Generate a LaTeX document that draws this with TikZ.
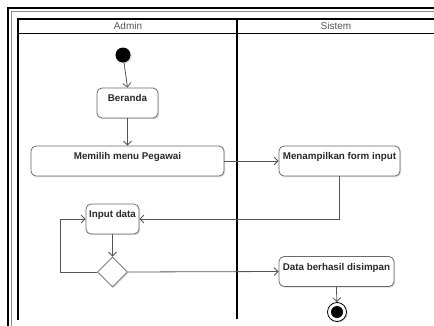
\documentclass[tikz,border=0pt]{standalone}
\usepackage{fontspec}
\setmainfont{Liberation Sans}
\usetikzlibrary{arrows.meta,shapes.geometric,shadows}
\definecolor{edgec}{HTML}{555555}
\definecolor{boxc}{HTML}{6A6A6A}
\definecolor{txtc}{HTML}{2A2A2A}
\definecolor{headc}{HTML}{555555}
\tikzset{
  x=1pt, y=-1pt,
  shd/.style={drop shadow={shadow xshift=1.2pt, shadow yshift=-1.2pt, fill=black!30, opacity=0.45}},
  act/.style={draw=boxc, line width=0.8pt, rounded corners=5pt, fill=white, shd,
    font=\fontsize{9.8}{11}\selectfont\bfseries, text=txtc,
    inner xsep=2pt, inner ysep=0pt, text height=13.5pt, text depth=16.5pt, minimum height=30pt},
  flow/.style={draw=edgec, line width=0.8pt, -{Straight Barb[length=4pt,width=8pt]}},
  head/.style={font=\fontsize{10}{12}\selectfont, text=headc},
  startnode/.style={circle, fill=black, minimum size=15pt, inner sep=0pt, shd},
  endnode/.style={circle, draw=black, line width=0.8pt, fill=white, minimum size=19pt, inner sep=0pt, shd,
    path picture={\fill[black] (path picture bounding box.center) circle (6pt);}},
  decision/.style={diamond, draw=boxc, line width=0.8pt, fill=white, minimum width=30pt, minimum height=30pt, inner sep=0pt, shd},
}
\begin{document}
\begin{tikzpicture}
\useasboundingbox (0,0) rectangle (434,325);
% outer frame
\draw[black, line width=1.6pt] (8,326) -- (8,8) -- (440,8);
\draw[black!45, line width=1pt] (11.5,326) -- (11.5,11.5) -- (440,11.5);
% pool
\draw[black, line width=1.1pt] (18,320) -- (18,19) -- (440,19);
\draw[black, line width=1.1pt] (18,33.5) -- (440,33.5);
\draw[black, line width=1.1pt] (237,19) -- (237,319);
\node[head] (hadmin) at (128,26) {Admin};
\node[head] (hsistem) at (336,26) {Sistem};
% nodes
\node[startnode] (init) at (123,55) {};
\node[act, minimum width=61pt] (ber) at (127.5,103) {Beranda};
\node[act, minimum width=193pt] (mem) at (127.5,161) {Memilih menu Pegawai};
\node[act, minimum width=121pt] (men) at (339.5,161) {Menampilkan form input};
\node[act, minimum width=53pt] (inp) at (112.5,219) {Input data};
\node[decision] (dia) at (112.5,272) {};
\node[act, minimum width=115pt] (dat) at (336.5,271.5) {Data berhasil disimpan};
\node[endnode] (fin) at (337,312) {};
% connectors
\draw[flow] (init) -- (ber.north);
\draw[flow] (ber) -- (mem);
\draw[flow] (mem.east) -- (men.west);
\draw[flow] (men.south) |- (inp.east);
\draw[flow] (inp) -- (dia);
\draw[flow] (dia.west) -- ++(-37,0) |- (inp.west);
\draw[flow] (dia.east) -- (dat.west);
\draw[flow] (dat.south) -- (fin);
\end{tikzpicture}
\end{document}
